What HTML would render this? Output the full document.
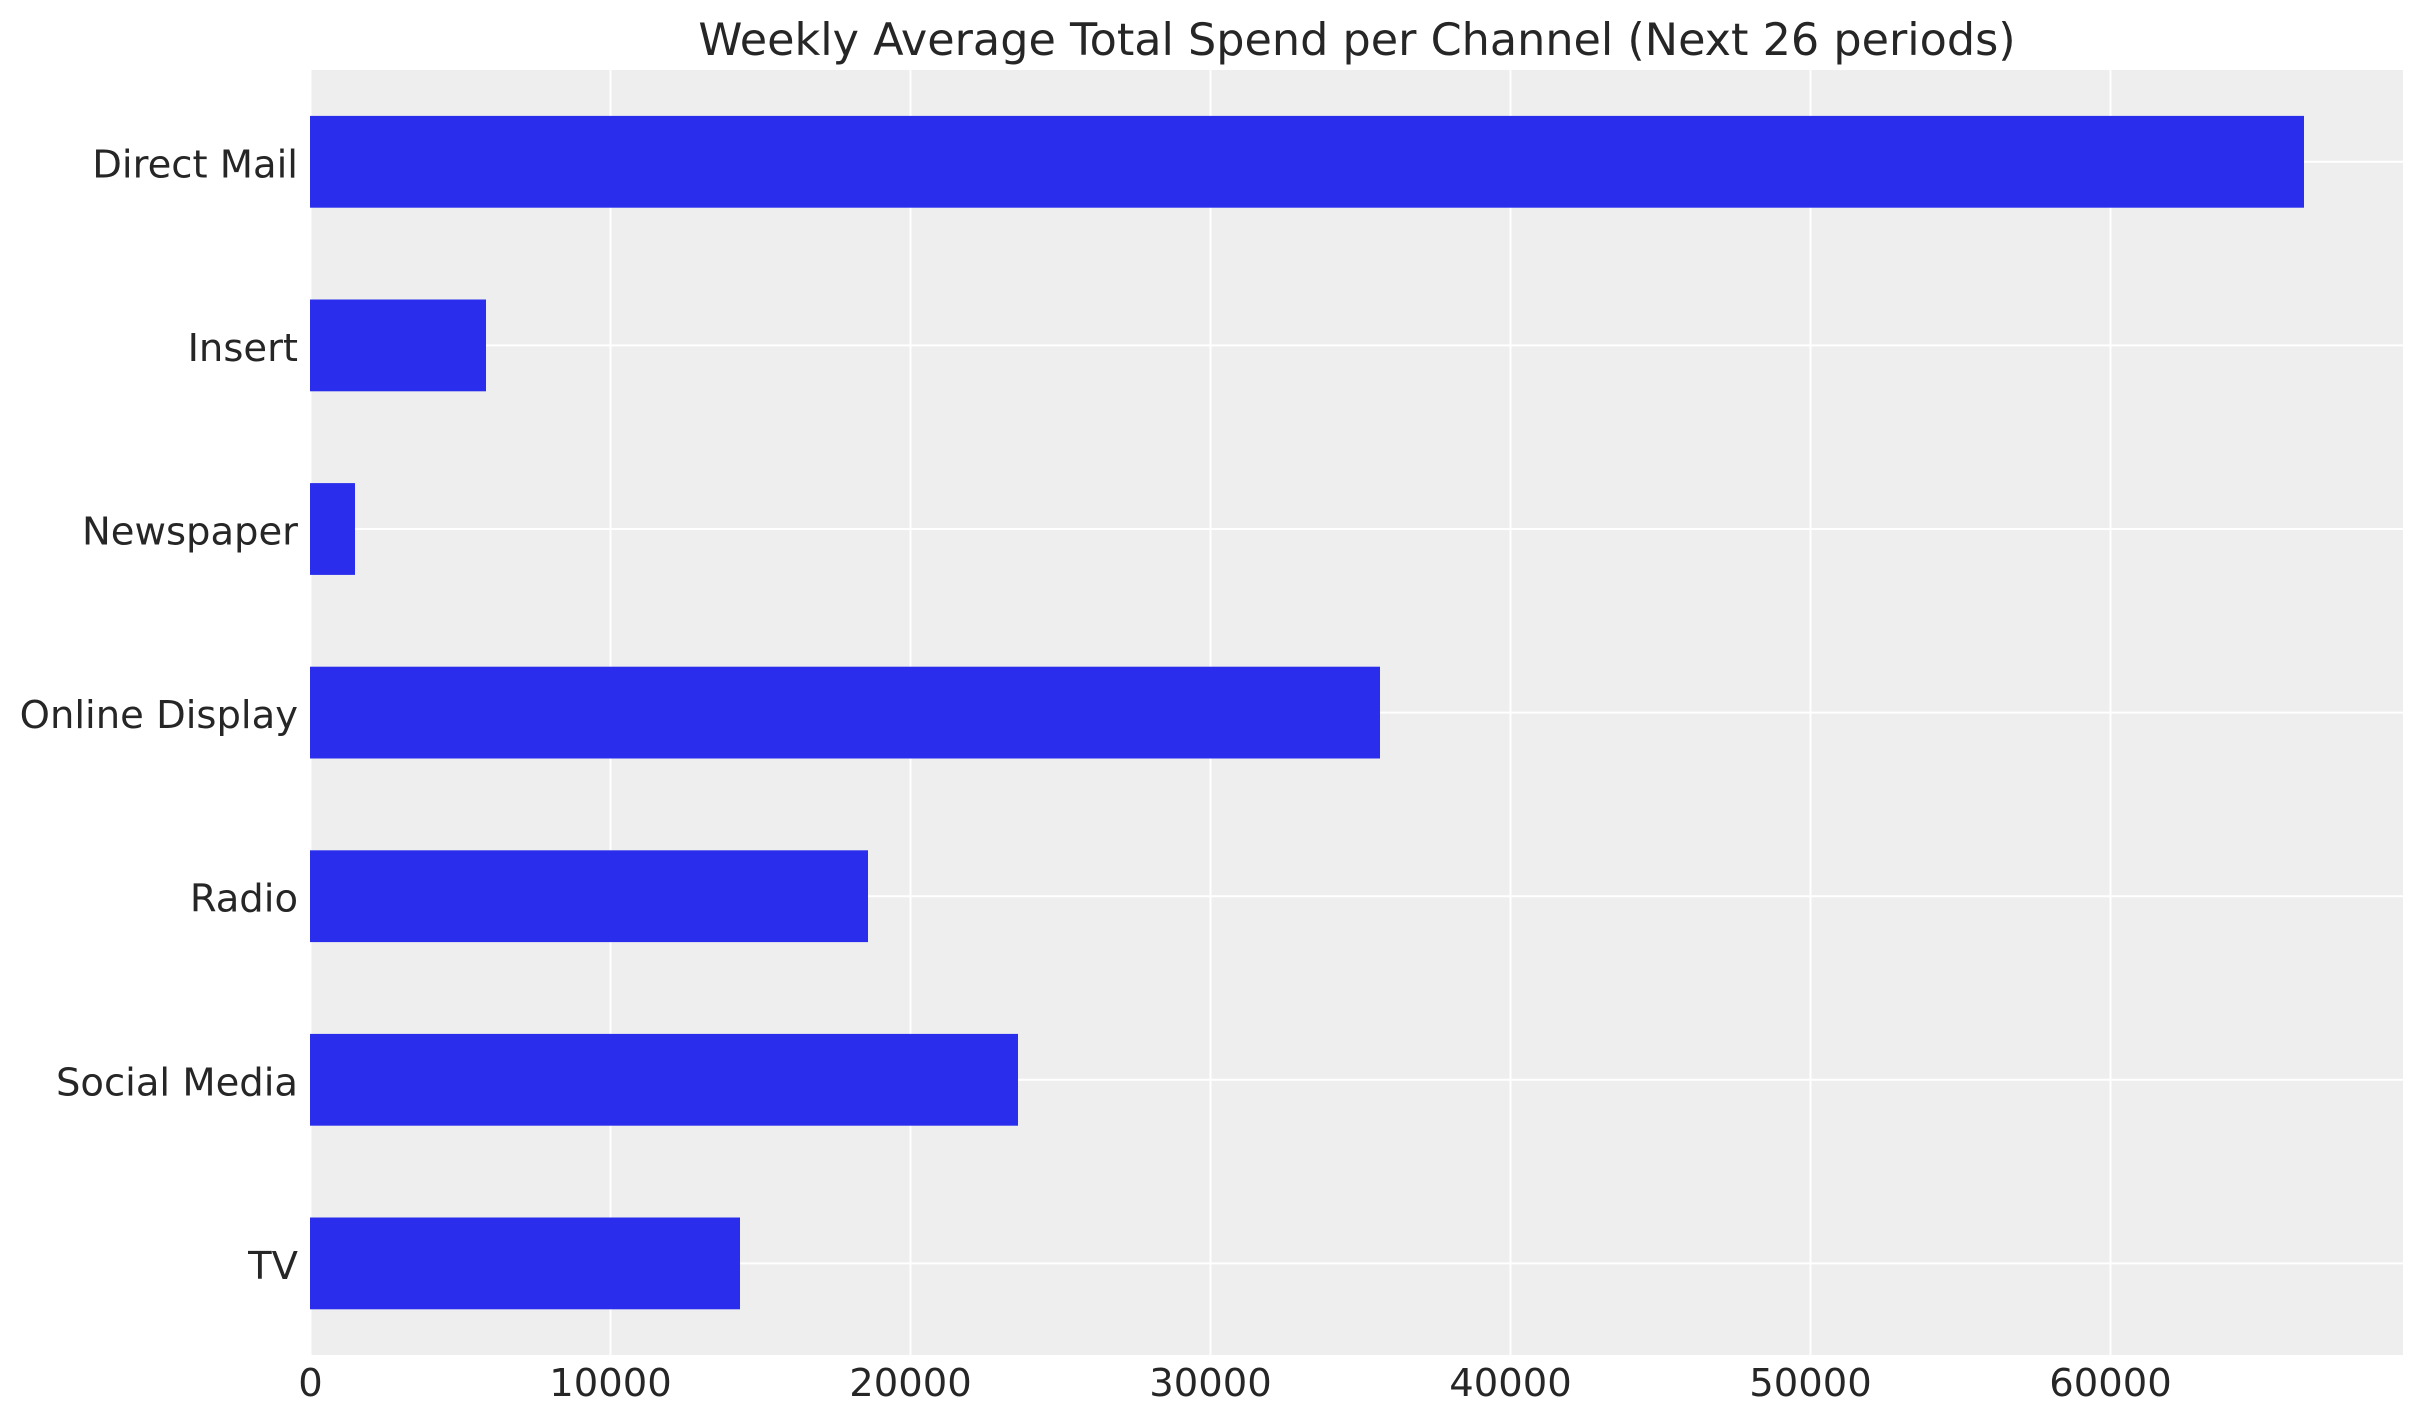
<!DOCTYPE html>
<html>
<head>
<meta charset="utf-8">
<style>
  html, body { margin: 0; padding: 0; background: #ffffff; }
  svg { display: block; }
  text { font-family: "DejaVu Sans", "Liberation Sans", sans-serif; fill: #262626; }
</style>
</head>
<body>
<svg width="2423" height="1423" viewBox="0 0 2423 1423" xmlns="http://www.w3.org/2000/svg">
  <rect x="0" y="0" width="2423" height="1423" fill="#ffffff"/>
  <!-- panel -->
  <rect x="310.5" y="70" width="2092.5" height="1285" fill="#eeeeee"/>
  <!-- vertical gridlines -->
  <g stroke="#ffffff" stroke-width="2">
    <line x1="310.5" y1="70" x2="310.5" y2="1355"/>
    <line x1="610.5" y1="70" x2="610.5" y2="1355"/>
    <line x1="910.5" y1="70" x2="910.5" y2="1355"/>
    <line x1="1210.5" y1="70" x2="1210.5" y2="1355"/>
    <line x1="1510.5" y1="70" x2="1510.5" y2="1355"/>
    <line x1="1810.5" y1="70" x2="1810.5" y2="1355"/>
    <line x1="2110.5" y1="70" x2="2110.5" y2="1355"/>
  </g>
  <!-- horizontal gridlines -->
  <g stroke="#ffffff" stroke-width="2">
    <line x1="310.5" y1="161.8" x2="2403" y2="161.8"/>
    <line x1="310.5" y1="345.4" x2="2403" y2="345.4"/>
    <line x1="310.5" y1="529" x2="2403" y2="529"/>
    <line x1="310.5" y1="712.6" x2="2403" y2="712.6"/>
    <line x1="310.5" y1="896.2" x2="2403" y2="896.2"/>
    <line x1="310.5" y1="1079.8" x2="2403" y2="1079.8"/>
    <line x1="310.5" y1="1263.4" x2="2403" y2="1263.4"/>
  </g>
  <!-- bars -->
  <g fill="#2a2eec">
    <rect x="310" y="115.9" width="1994" height="91.8"/>
    <rect x="310" y="299.5" width="176" height="91.8"/>
    <rect x="310" y="483.1" width="45" height="91.8"/>
    <rect x="310" y="666.7" width="1070" height="91.8"/>
    <rect x="310" y="850.3" width="558" height="91.8"/>
    <rect x="310" y="1033.9" width="708" height="91.8"/>
    <rect x="310" y="1217.5" width="430" height="91.8"/>
  </g>
  <!-- title -->
  <text x="1357" y="55" font-size="44.5" text-anchor="middle">Weekly Average Total Spend per Channel (Next 26 periods)</text>
  <!-- y tick labels -->
  <g font-size="38.5" text-anchor="end">
    <text x="298" y="177.3">Direct Mail</text>
    <text x="298" y="360.9">Insert</text>
    <text x="298" y="544.5">Newspaper</text>
    <text x="298" y="728.1">Online Display</text>
    <text x="298" y="911.7">Radio</text>
    <text x="298" y="1095.3">Social Media</text>
    <text x="298" y="1278.9">TV</text>
  </g>
  <!-- x tick labels -->
  <g font-size="38.5" text-anchor="middle">
    <text x="310.5" y="1396">0</text>
    <text x="610.5" y="1396">10000</text>
    <text x="910.5" y="1396">20000</text>
    <text x="1210.5" y="1396">30000</text>
    <text x="1510.5" y="1396">40000</text>
    <text x="1810.5" y="1396">50000</text>
    <text x="2110.5" y="1396">60000</text>
  </g>
</svg>
</body>
</html>
